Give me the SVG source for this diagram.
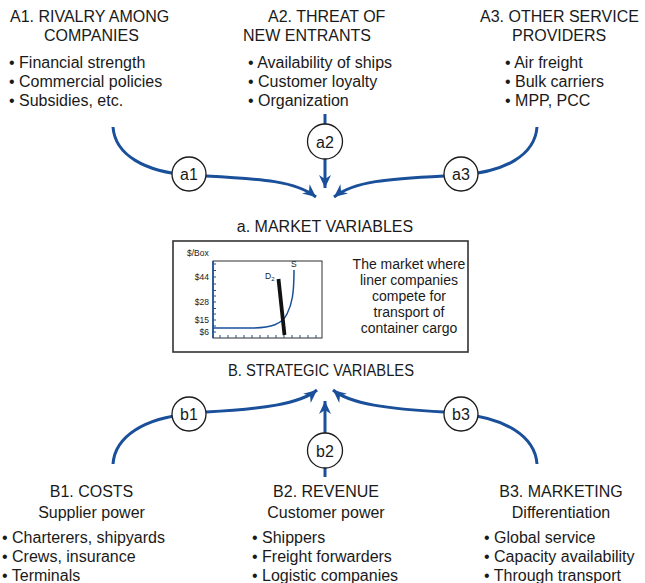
<svg xmlns="http://www.w3.org/2000/svg" width="645" height="583" viewBox="0 0 645 583">
<defs>
<style>
text{font-family:"Liberation Sans",Arial,Helvetica,sans-serif;fill:#1a1a1a}
.h{font-size:16px}
.hc{font-size:16px;text-anchor:middle}
.b{font-size:16px}
.c{font-size:16px;text-anchor:middle}
.m{font-size:14px;text-anchor:middle}
.s{font-size:8.5px}
.con{fill:none;stroke:#1a4f9a;stroke-width:3}
.node circle{fill:#fff;stroke:#1a1a1a;stroke-width:1.3}
.tick{stroke:#1a4f9a;stroke-width:1}
</style>
<marker id="arr" markerWidth="16" markerHeight="12" refX="13" refY="6" orient="auto" markerUnits="userSpaceOnUse">
<path d="M0,0 L13,6 L0,12 L4,6 Z" fill="#1a4f9a"/>
</marker>
</defs>

<g id="connectors">
<path class="con" d="M113,127 C115,155 145,172 189,175"/>
<path class="con" d="M206,176 C262,179 296,181 316,197" marker-end="url(#arr)"/>
<path class="con" d="M325,114 L325,124"/>
<path class="con" d="M325,159 L325,188" marker-end="url(#arr)"/>
<path class="con" d="M537,127 C535,155 505,172 461,175"/>
<path class="con" d="M444,176 C388,179 354,181 334,197" marker-end="url(#arr)"/>
<path class="con" d="M113,464 C115,436 145,418 189,414"/>
<path class="con" d="M206,412 C262,409 300,404 317,390" marker-end="url(#arr)"/>
<path class="con" d="M325,477 L325,468"/>
<path class="con" d="M325,433 L325,401" marker-end="url(#arr)"/>
<path class="con" d="M537,464 C535,436 505,418 461,414"/>
<path class="con" d="M444,412 C388,409 350,404 333,390" marker-end="url(#arr)"/>
</g>

<g id="A1">
<text class="h" x="10" y="22">A1. RIVALRY AMONG</text>
<text class="h" x="44" y="41">COMPANIES</text>
<text class="b" x="9" y="68">• Financial strength</text>
<text class="b" x="9" y="87">• Commercial policies</text>
<text class="b" x="9" y="106">• Subsidies, etc.</text>
</g>
<g id="A2">
<text class="h" x="268" y="22">A2. THREAT OF</text>
<text class="h" x="243" y="41">NEW ENTRANTS</text>
<text class="b" x="248" y="68">• Availability of ships</text>
<text class="b" x="248" y="87">• Customer loyalty</text>
<text class="b" x="248" y="106">• Organization</text>
</g>
<g id="A3">
<text class="h" x="480" y="22">A3. OTHER SERVICE</text>
<text class="h" x="512" y="41">PROVIDERS</text>
<text class="b" x="505" y="68">• Air freight</text>
<text class="b" x="505" y="87">• Bulk carriers</text>
<text class="b" x="505" y="106">• MPP, PCC</text>
</g>

<g id="a1" class="node"><circle cx="189" cy="174" r="17"/><text class="c" x="189" y="180">a1</text></g>
<g id="a2" class="node"><circle cx="325" cy="141.5" r="17.5"/><text class="c" x="325" y="147.5">a2</text></g>
<g id="a3" class="node"><circle cx="461" cy="174" r="17"/><text class="c" x="461" y="180">a3</text></g>

<g id="market">
<text class="c" x="325" y="232">a. MARKET VARIABLES</text>
<rect x="173" y="241" width="295" height="111" fill="#fff" stroke="#333" stroke-width="1.6"/>
<text class="s" x="187" y="256">$/Box</text>
<rect x="213" y="261" width="109" height="77" fill="none" stroke="#1a1a1a" stroke-width="0.9"/>
<line x1="213" y1="261" x2="213" y2="338" stroke="#1a4f9a" stroke-width="1.6"/>
<g class="tick">
<path d="M213,264h3M213,270.5h3M213,277h3M213,284h3M213,290.5h3M213,296h3M213,302h3M213,308.5h3M213,314h3M213,320h3M213,326h3M213,332h3"/>
<path d="M220,338v-3M228,338v-3M236,338v-3M244,338v-3M252,338v-3M260,338v-3M268,338v-3M276,338v-3M284,338v-3M292,338v-3M300,338v-3M308,338v-3M316,338v-3"/>
</g>
<text class="s" x="209" y="280" text-anchor="end">$44</text>
<text class="s" x="209" y="305" text-anchor="end">$28</text>
<text class="s" x="209" y="323" text-anchor="end">$15</text>
<text class="s" x="209" y="335" text-anchor="end">$6</text>
<path d="M213,328 L250,328 C272,328 282,324 287,314 C292,304 294,294 294,270" fill="none" stroke="#1a4f9a" stroke-width="1.5"/>
<text class="s" x="291" y="267">S</text>
<line x1="278.5" y1="279" x2="284.5" y2="335" stroke="#111" stroke-width="3.8"/>
<text class="s" x="265" y="279">D<tspan font-size="6" dy="2">2</tspan></text>
<text class="m" x="409" y="269">The market where</text>
<text class="m" x="409" y="285">liner companies</text>
<text class="m" x="409" y="301">compete for</text>
<text class="m" x="409" y="317">transport of</text>
<text class="m" x="409" y="333">container cargo</text>
</g>

<g id="strategic">
<text class="h" x="228" y="376" textLength="186" lengthAdjust="spacingAndGlyphs">B. STRATEGIC VARIABLES</text>
</g>

<g id="b1" class="node"><circle cx="189" cy="414" r="17"/><text class="c" x="189" y="420">b1</text></g>
<g id="b2" class="node"><circle cx="325" cy="450.5" r="17.5"/><text class="c" x="325" y="456.5">b2</text></g>
<g id="b3" class="node"><circle cx="461" cy="414" r="17"/><text class="c" x="461" y="420">b3</text></g>

<g id="B1">
<text class="hc" x="91.5" y="497">B1. COSTS</text>
<text class="hc" x="91.5" y="518">Supplier power</text>
<text class="b" x="2" y="543">• Charterers, shipyards</text>
<text class="b" x="2" y="562">• Crews, insurance</text>
<text class="b" x="2" y="581">• Terminals</text>
</g>
<g id="B2">
<text class="hc" x="326" y="497">B2. REVENUE</text>
<text class="hc" x="326" y="518">Customer power</text>
<text class="b" x="252" y="543">• Shippers</text>
<text class="b" x="252" y="562">• Freight forwarders</text>
<text class="b" x="252" y="581">• Logistic companies</text>
</g>
<g id="B3">
<text class="hc" x="561" y="497">B3. MARKETING</text>
<text class="hc" x="561" y="518">Differentiation</text>
<text class="b" x="484" y="543">• Global service</text>
<text class="b" x="484" y="562">• Capacity availability</text>
<text class="b" x="484" y="581">• Through transport</text>
</g>
</svg>
